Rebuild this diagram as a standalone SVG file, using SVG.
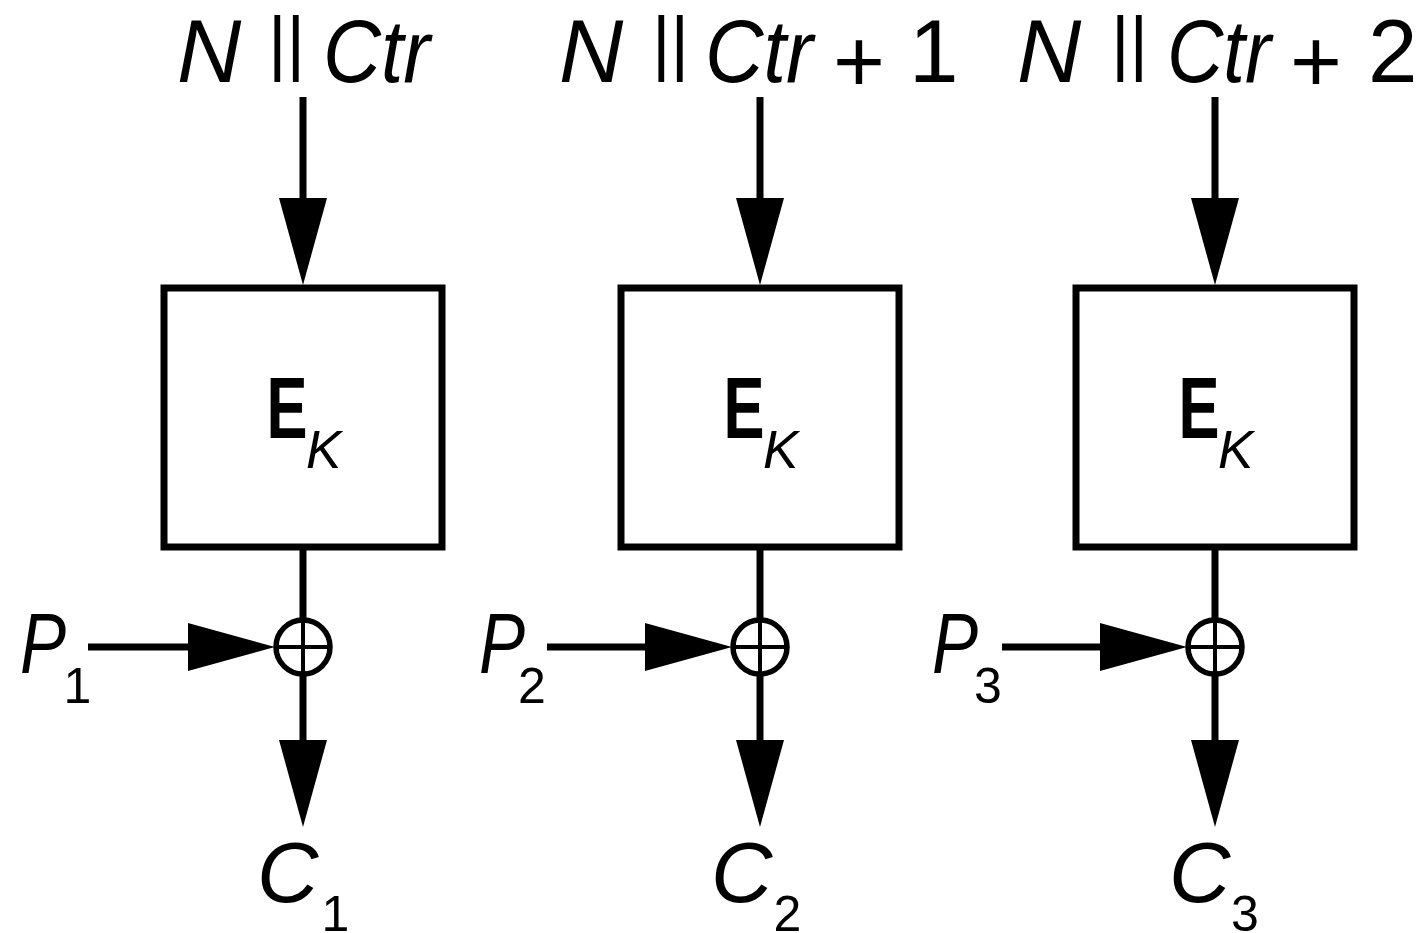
<svg xmlns="http://www.w3.org/2000/svg" width="1418" height="933" viewBox="0 0 1418 933">
<style>
text{font-family:"Liberation Sans",Arial,sans-serif;fill:#000}
.it{font-style:italic}
.lbl{font-size:89px}
.bar{font-size:71.5px}
.e{font-size:88px;font-weight:bold}
.k{font-size:53px;font-style:italic}
.pc{font-size:85px;font-style:italic}
.sub{font-size:50px}
.box{fill:#fff;stroke:#000;stroke-width:7}
.line{stroke:#000;stroke-width:7;fill:none}
.arr{stroke:#000;stroke-width:7;fill:none;marker-end:url(#ah)}
.xc{fill:#fff;stroke:#000;stroke-width:5.5}
.xl{stroke:#000;stroke-width:4}
</style>
<defs>
<marker id="ah" markerUnits="userSpaceOnUse" viewBox="0 0 87 48" markerWidth="87" markerHeight="48" refX="57" refY="24" orient="auto">
<path d="M0,0 L87,24 L0,48 z" fill="#000"/>
</marker>
</defs>
<rect width="1418" height="933" fill="#fff"/>
<g id="connectors">
<line class="arr" x1="303" y1="97" x2="303" y2="255"/>
<line class="arr" x1="760" y1="97" x2="760" y2="255"/>
<line class="arr" x1="1215" y1="97" x2="1215" y2="255"/>
<line class="line" x1="303" y1="547" x2="303" y2="620"/>
<line class="line" x1="760" y1="547" x2="760" y2="620"/>
<line class="line" x1="1215" y1="547" x2="1215" y2="620"/>
<line class="arr" x1="88" y1="647" x2="245" y2="647"/>
<line class="arr" x1="547" y1="647" x2="702" y2="647"/>
<line class="arr" x1="1002" y1="647" x2="1157" y2="647"/>
<line class="arr" x1="303" y1="674" x2="303" y2="797"/>
<line class="arr" x1="760" y1="674" x2="760" y2="797"/>
<line class="arr" x1="1215" y1="674" x2="1215" y2="797"/>
</g>
<g id="in1">
<text class="lbl it" x="177" y="82">N</text>
<text class="bar" x="268" y="67">||</text>
<text class="lbl it" x="323" y="82" textLength="107" lengthAdjust="spacingAndGlyphs">Ctr</text>
</g>
<g id="in2">
<text class="lbl it" x="559" y="82">N</text>
<text class="bar" x="652" y="67">||</text>
<text class="lbl it" x="705" y="82" textLength="108" lengthAdjust="spacingAndGlyphs">Ctr</text>
<text class="lbl" x="833" y="92">+</text>
<text class="lbl" x="909" y="82">1</text>
</g>
<g id="in3">
<text class="lbl it" x="1017" y="82">N</text>
<text class="bar" x="1111" y="67">||</text>
<text class="lbl it" x="1167" y="82" textLength="104" lengthAdjust="spacingAndGlyphs">Ctr</text>
<text class="lbl" x="1290" y="92">+</text>
<text class="lbl" x="1368" y="82">2</text>
</g>
<g id="enc1">
<rect class="box" x="164" y="288" width="278" height="259"/>
<text class="e" x="266.5" y="438" textLength="41" lengthAdjust="spacingAndGlyphs">E</text>
<text class="k" x="306" y="468">K</text>
</g>
<g id="enc2">
<rect class="box" x="621" y="288" width="278" height="259"/>
<text class="e" x="723.5" y="438" textLength="41" lengthAdjust="spacingAndGlyphs">E</text>
<text class="k" x="763" y="468">K</text>
</g>
<g id="enc3">
<rect class="box" x="1076" y="288" width="278" height="259"/>
<text class="e" x="1178.5" y="438" textLength="41" lengthAdjust="spacingAndGlyphs">E</text>
<text class="k" x="1218" y="468">K</text>
</g>
<g id="xor1">
<circle class="xc" cx="303" cy="647" r="27"/>
<line class="xl" x1="276" y1="647" x2="330" y2="647"/>
<line class="xl" x1="303" y1="620" x2="303" y2="674"/>
</g>
<g id="xor2">
<circle class="xc" cx="760" cy="647" r="27"/>
<line class="xl" x1="733" y1="647" x2="787" y2="647"/>
<line class="xl" x1="760" y1="620" x2="760" y2="674"/>
</g>
<g id="xor3">
<circle class="xc" cx="1215" cy="647" r="27"/>
<line class="xl" x1="1188" y1="647" x2="1242" y2="647"/>
<line class="xl" x1="1215" y1="620" x2="1215" y2="674"/>
</g>
<g id="p1">
<text class="pc" x="20" y="673" textLength="46" lengthAdjust="spacingAndGlyphs">P</text>
<text class="sub" x="63.5" y="703">1</text>
</g>
<g id="p2">
<text class="pc" x="479" y="673" textLength="46" lengthAdjust="spacingAndGlyphs">P</text>
<text class="sub" x="518" y="703">2</text>
</g>
<g id="p3">
<text class="pc" x="932" y="673" textLength="46" lengthAdjust="spacingAndGlyphs">P</text>
<text class="sub" x="974" y="703">3</text>
</g>
<g id="c1">
<text class="pc" x="257" y="902">C</text>
<text class="sub" x="321.5" y="931">1</text>
</g>
<g id="c2">
<text class="pc" x="711" y="902">C</text>
<text class="sub" x="773.5" y="931">2</text>
</g>
<g id="c3">
<text class="pc" x="1169" y="902">C</text>
<text class="sub" x="1231" y="931">3</text>
</g>
</svg>
